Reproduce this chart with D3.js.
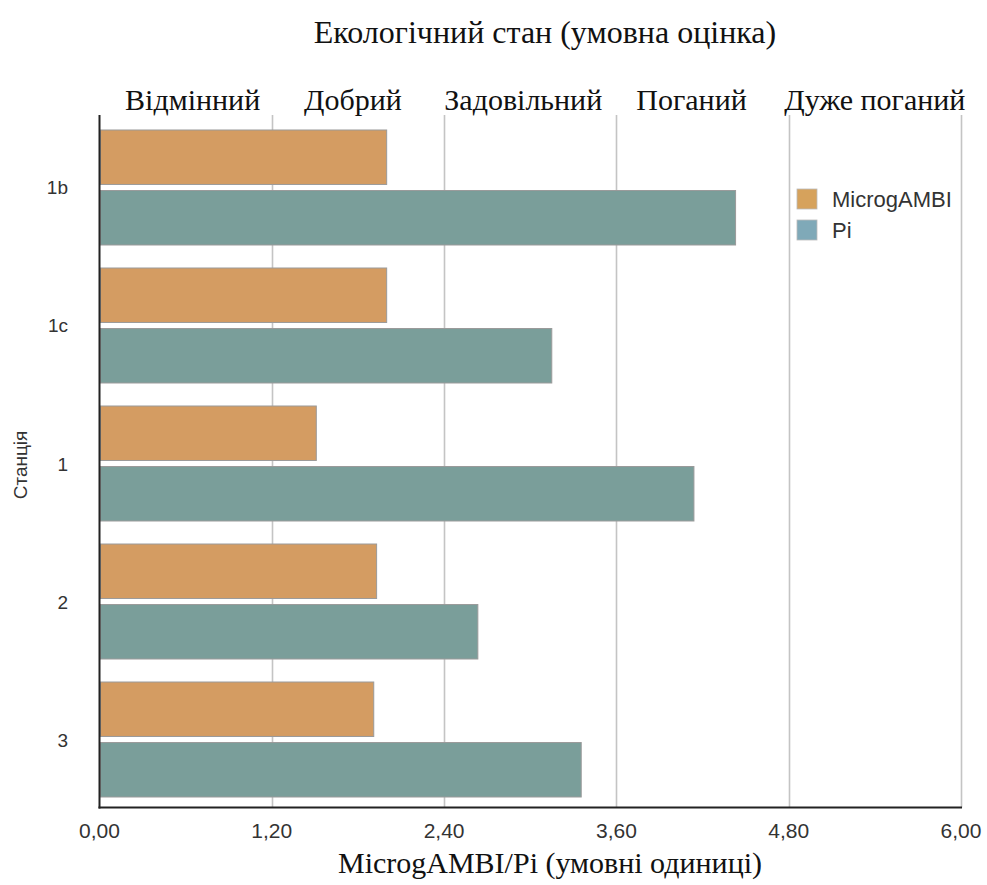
<!DOCTYPE html>
<html>
<head>
<meta charset="utf-8">
<script src="https://cdn.jsdelivr.net/npm/d3@7"></script>
<style>
  html, body { margin: 0; padding: 0; background: #fff; }
  svg { display: block; }
</style>
</head>
<body>
<script>
// Stations (top to bottom) and the two index series
const stations = ["1b", "1c", "1", "2", "3"];
const series = ["MicrogAMBI", "Pi"];
const microgAMBI = [2.00, 2.00, 1.51, 1.93, 1.91];
const pi = [4.43, 3.15, 4.14, 2.635, 3.355];
const xTicks = [0, 1.2, 2.4, 3.6, 4.8, 6.0];
const statusClasses = ["Відмінний", "Добрий", "Задовільний", "Поганий", "Дуже поганий"];

const W = 987, H = 885;
const plotLeft = 99.5, plotRight = 961, plotTop = 115, plotBottom = 807.5;
// small horizontal nudges for the class labels above the plot
const classNudge = [7, -5, -7, -11, 0];

const svg = d3.select("body").append("svg").attr("width", W).attr("height", H);

const x = d3.scaleLinear().domain([0, 6]).range([plotLeft, plotRight]);
const y = d3.scaleBand().domain(stations).range([118.5, 808.5])
  .paddingInner(0.1667).paddingOuter(0.0833);
const ySub = d3.scaleBand().domain(series).range([0, y.bandwidth()]).paddingInner(0.1);
const color = d3.scaleOrdinal().domain(series).range(["#d49c62", "#7a9e9a"]);
const legendColor = d3.scaleOrdinal().domain(series).range(["#d6a25c", "#7fa9b8"]);

const sans = "Liberation Sans, Arial, Helvetica, sans-serif";
const serif = "Liberation Serif, Times New Roman, serif";

// vertical gridlines
svg.append("g").selectAll("line").data(xTicks.slice(1)).join("line")
  .attr("x1", d => Math.round(x(d)) + 0.5).attr("x2", d => Math.round(x(d)) + 0.5)
  .attr("y1", plotTop).attr("y2", plotBottom)
  .attr("stroke", "#c4c4c4").attr("stroke-width", 1.6);

// bars
const rows = stations.map((s, i) => ({ station: s, values: [
  { key: "MicrogAMBI", value: microgAMBI[i] },
  { key: "Pi", value: pi[i] }
]}));

svg.append("g").selectAll("g").data(rows).join("g")
  .attr("transform", d => `translate(0,${y(d.station)})`)
  .selectAll("rect").data(d => d.values).join("rect")
  .attr("x", x(0) + 1)
  .attr("y", d => ySub(d.key))
  .attr("width", d => x(d.value) - x(0) - 1)
  .attr("height", ySub.bandwidth())
  .attr("fill", d => color(d.key))
  .attr("stroke", "#9a9a9a").attr("stroke-width", 1);

// axis lines
svg.append("line").attr("x1", plotLeft).attr("x2", plotLeft).attr("y1", plotTop).attr("y2", plotBottom + 1)
  .attr("stroke", "#222").attr("stroke-width", 2);
svg.append("line").attr("x1", plotLeft - 1).attr("x2", plotRight + 1).attr("y1", plotBottom).attr("y2", plotBottom)
  .attr("stroke", "#222").attr("stroke-width", 2);

// x tick labels
const fmt = d => d3.format(".2f")(d).replace(".", ",");
svg.append("g").selectAll("text").data(xTicks).join("text")
  .attr("x", d => x(d)).attr("y", 838)
  .attr("text-anchor", "middle")
  .attr("font-family", sans).attr("font-size", 21)
  .attr("fill", "#333").text(fmt);

// station labels
svg.append("g").selectAll("text").data(stations).join("text")
  .attr("x", 68).attr("y", d => y(d) + y.bandwidth() / 2 + 7)
  .attr("text-anchor", "end")
  .attr("font-family", sans).attr("font-size", 19)
  .attr("fill", "#333").text(d => d);

svg.append("text")
  .attr("transform", `translate(27,465) rotate(-90)`)
  .attr("text-anchor", "middle")
  .attr("font-family", sans).attr("font-size", 19)
  .attr("fill", "#333").text("Станція");

// ecological status classes over each 1.2 interval
svg.append("g").selectAll("text").data(statusClasses).join("text")
  .attr("x", (d, i) => (x(xTicks[i]) + x(xTicks[i + 1])) / 2 + classNudge[i])
  .attr("y", 110)
  .attr("text-anchor", "middle")
  .attr("font-family", serif).attr("font-size", 30)
  .attr("fill", "#111").text(d => d);

svg.append("text").attr("x", 545).attr("y", 43).attr("text-anchor", "middle")
  .attr("font-family", serif).attr("font-size", 32)
  .attr("fill", "#111").text("Екологічний стан (умовна оцінка)");

svg.append("text").attr("x", 550).attr("y", 873).attr("text-anchor", "middle")
  .attr("font-family", serif).attr("font-size", 30)
  .attr("fill", "#111").text("MicrogAMBI/Pi (умовні одиниці)");

// legend
const lg = svg.append("g").attr("transform", "translate(797,189)");
const li = lg.selectAll("g").data(series).join("g")
  .attr("transform", (d, i) => `translate(0,${i * 31})`);
li.append("rect").attr("width", 20).attr("height", 20).attr("fill", d => legendColor(d))
  .attr("stroke", "#bbb").attr("stroke-width", 0.8);
li.append("text").attr("x", 35).attr("y", 18)
  .attr("font-family", sans).attr("font-size", 22)
  .attr("fill", "#333").text(d => d);
</script>
</body>
</html>
